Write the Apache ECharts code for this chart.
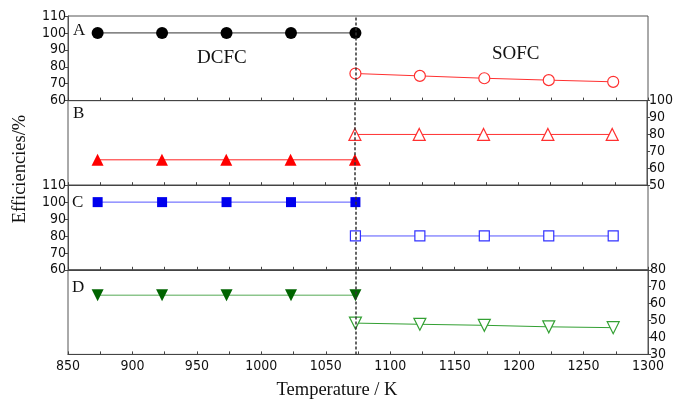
<!DOCTYPE html>
<html>
<head>
<meta charset="utf-8">
<script src="https://cdn.jsdelivr.net/npm/echarts@6/dist/echarts.min.js"></script>
<style>
  html, body { margin: 0; padding: 0; background: #fff; }
  #chart { width: 676px; height: 399px; }
</style>
</head>
<body>
<div id="chart"></div>
<script>
// Operating temperatures (K)
const dcfcTemps = [873, 923, 973, 1023, 1073];
const sofcTemps = [1073, 1123, 1173, 1223, 1273];

// Panel A
const dcfcA = [100, 100, 100, 100, 100];
const sofcA = [76, 74.6, 73.2, 72.1, 71.1];
// Panel B
const dcfcB = [65, 65, 65, 65, 65];
const sofcB = [80, 80, 80, 80, 80];
// Panel C
const dcfcC = [100, 100, 100, 100, 100];
const sofcC = [80, 80, 80, 80, 80];
// Panel D
const dcfcD = [65, 65, 65, 65, 65];
const sofcD = [48.5, 47.8, 47.2, 46.3, 45.8];

// Y ranges per panel: [min, max]
const yRanges = [[60, 110], [50, 100], [60, 110], [30, 80]];
const yPositions = ['left', 'right', 'left', 'right'];
const panelLetters = ['A', 'B', 'C', 'D'];
const switchTemp = 1073;

const tickFont = '"Liberation Sans Narrow", "Arial Narrow", "DejaVu Sans Condensed", sans-serif';
const serif = '"Liberation Serif", "Times New Roman", serif';

const chart = echarts.init(document.getElementById('chart'));

const left = 68, right = 28, top0 = 16, panelH = 84.6;

const grids = [0, 1, 2, 3].map(i => ({
  left: left, right: right, top: top0 + i * panelH, height: panelH,
  show: true, borderColor: '#555', borderWidth: 1, backgroundColor: 'transparent'
}));

const plain = v => String(v);

const xAxes = [0, 1, 2, 3].map(i => ({
  type: 'value', gridIndex: i, min: 850, max: 1300, interval: 50,
  axisLine: { show: true, lineStyle: { color: '#444', width: 1.2 } },
  axisTick: { show: true, inside: true, length: 3, lineStyle: { color: '#444' } },
  minorTick: { show: true, splitNumber: 2, length: 3, lineStyle: { color: '#444' } },
  splitLine: { show: false },
  axisLabel: {
    show: i === 3, margin: 5, color: '#111', formatter: plain,
    fontFamily: tickFont, fontSize: 14
  }
}));

const yAxes = [0, 1, 2, 3].map(i => ({
  type: 'value', gridIndex: i, position: yPositions[i],
  min: yRanges[i][0], max: yRanges[i][1], interval: 10,
  axisLine: { show: true, lineStyle: { color: '#555' } },
  axisTick: { show: true, inside: false, length: 3, lineStyle: { color: '#444' } },
  splitLine: { show: false },
  axisLabel: {
    show: true, margin: 2, color: '#111', formatter: plain,
    fontFamily: tickFont, fontSize: 14
  }
}));

function pairs(xs, ys) { return xs.map((x, k) => [x, ys[k]]); }

const dashLine = {
  silent: true, symbol: 'none', label: { show: false },
  lineStyle: { type: [3, 2], color: '#333', width: 1.5 },
  data: [{ xAxis: switchTemp }]
};

function closedSeries(i, data, symbol, color, lineColor, size, rotate) {
  return {
    type: 'line', xAxisIndex: i, yAxisIndex: i, data: data,
    symbol: symbol, symbolSize: size, symbolRotate: rotate || 0, z: 3,
    lineStyle: { color: lineColor, width: 1 },
    itemStyle: { color: color, borderColor: color, borderWidth: 0 },
    markLine: dashLine, animation: false
  };
}
function openSeries(i, data, symbol, color, lineColor, size, rotate) {
  return {
    type: 'line', xAxisIndex: i, yAxisIndex: i, data: data,
    symbol: symbol, symbolSize: size, symbolRotate: rotate || 0, z: 4,
    lineStyle: { color: lineColor, width: 1 },
    itemStyle: { color: '#fff', borderColor: color, borderWidth: 1.2 },
    animation: false
  };
}

const series = [
  closedSeries(0, pairs(dcfcTemps, dcfcA), 'circle', '#000', '#333', 12),
  openSeries(0, pairs(sofcTemps, sofcA), 'circle', '#ff3030', '#ff3030', 11),
  closedSeries(1, pairs(dcfcTemps, dcfcB), 'triangle', '#ff0000', '#ff2020', 12),
  openSeries(1, pairs(sofcTemps, sofcB), 'triangle', '#ff3030', '#ff3030', 12),
  closedSeries(2, pairs(dcfcTemps, dcfcC), 'rect', '#0000ee', '#5555ff', 10),
  openSeries(2, pairs(sofcTemps, sofcC), 'rect', '#3333ff', '#5555ff', 10),
  closedSeries(3, pairs(dcfcTemps, dcfcD), 'triangle', '#006400', '#55aa55', 12, 180),
  openSeries(3, pairs(sofcTemps, sofcD), 'triangle', '#33a033', '#33a033', 12, 180)
];

const letterPos = [[73, 31], [73, 114], [72, 203], [72, 288]];
const graphics = panelLetters.map((t, i) => ({
  type: 'text', left: letterPos[i][0], top: letterPos[i][1] - 9,
  style: { text: t, font: '17px ' + serif, fill: '#111' }
}));
graphics.push(
  { type: 'text', left: 197, top: 49, style: { text: 'DCFC', font: '19px ' + serif, fill: '#111' } },
  { type: 'text', left: 492, top: 45, style: { text: 'SOFC', font: '19px ' + serif, fill: '#111' } },
  { type: 'text', x: 20, y: 169, rotation: Math.PI / 2,
    style: { text: 'Efficiencies/%', font: '18.5px ' + serif, fill: '#111', align: 'center', verticalAlign: 'middle' } },
  { type: 'text', x: 337, y: 390,
    style: { text: 'Temperature / K', font: '18.5px ' + serif, fill: '#111', align: 'center', verticalAlign: 'middle' } }
);

chart.setOption({
  animation: false,
  backgroundColor: '#fff',
  grid: grids,
  xAxis: xAxes,
  yAxis: yAxes,
  series: series,
  graphic: graphics
});
</script>
</body>
</html>
